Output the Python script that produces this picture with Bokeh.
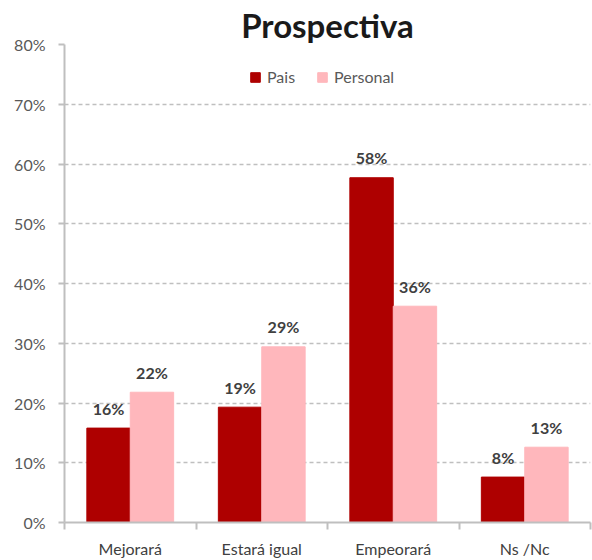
from bokeh.plotting import figure
from bokeh.models import ColumnDataSource, FixedTicker, Legend, LegendItem, Range1d
from bokeh.core.properties import value
from bokeh.embed import file_html
from bokeh.resources import INLINE

categories = ["Mejorará", "Estará igual", "Empeorará", "Ns /Nc"]
pais = [15.8, 19.3, 57.7, 7.6]
personal = [21.8, 29.4, 36.2, 12.6]
y_ticks = [0, 10, 20, 30, 40, 50, 60, 70, 80]

FONT = "Lato"
C_PAIS = "#AE0000"
C_PERS = "#FFB7BC"
GRAY = "#BFBFBF"
TXT = "#595959"

centers = [i + 0.5 for i in range(len(categories))]
bounds = [i for i in range(len(categories) + 1)]
w = 0.33

src_pais = ColumnDataSource(dict(x=[c - w / 2 for c in centers], top=pais,
                                 lab=[f"{round(v)}%" for v in pais]))
src_pers = ColumnDataSource(dict(x=[c + w / 2 for c in centers], top=personal,
                                 lab=[f"{round(v)}%" for v in personal]))

p = figure(width=592, height=560, output_backend="svg", toolbar_location=None,
           x_range=Range1d(0, len(categories)), y_range=Range1d(0, 80),
           min_border_left=64, min_border_right=2, min_border_bottom=37, min_border_top=44)

p.title.text = "Prospectiva"
p.title.align = "center"
p.title.text_font = FONT
p.title.text_font_size = "33px"
p.title.text_font_style = "bold"
p.title.text_color = "#1a1a1a"
p.title.offset = -6
p.title.standoff = 0

r1 = p.vbar(x="x", top="top", width=w, source=src_pais, color=C_PAIS)
r2 = p.vbar(x="x", top="top", width=w, source=src_pers, color=C_PERS)

for s in (src_pais, src_pers):
    p.text(x="x", y="top", text="lab", source=s, text_align="center",
           text_baseline="alphabetic", y_offset=-20, text_font=value(FONT),
           text_font_size="16px", text_font_style="bold", text_color="#404040")

legend = Legend(items=[LegendItem(label="Pais", renderers=[r1]),
                       LegendItem(label="Personal", renderers=[r2])],
                orientation="horizontal", location=(185, 436),
                border_line_color=None, background_fill_alpha=0,
                label_text_font=FONT, label_text_font_size="16px",
                label_text_color=TXT, glyph_width=12, glyph_height=12,
                spacing=21, label_standoff=6, margin=0, padding=0)
p.add_layout(legend)

p.outline_line_color = None
p.xgrid.grid_line_color = None
p.ygrid.grid_line_color = GRAY
p.ygrid.grid_line_dash = "4 3"
p.ygrid.grid_line_width = 1.5

p.yaxis.ticker = FixedTicker(ticks=y_ticks)
p.yaxis.major_label_overrides = {t: f"{t}%" for t in y_ticks}
p.yaxis.axis_line_color = GRAY
p.yaxis.axis_line_width = 2
p.yaxis.major_tick_line_color = GRAY
p.yaxis.major_tick_line_width = 2
p.yaxis.major_tick_out = 6
p.yaxis.major_tick_in = 0
p.yaxis.minor_tick_line_color = None
p.yaxis.major_label_text_font = FONT
p.yaxis.major_label_text_font_size = "16px"
p.yaxis.major_label_text_color = TXT
p.yaxis.major_label_standoff = 13

p.xaxis.ticker = FixedTicker(ticks=centers, minor_ticks=bounds)
p.xaxis.major_label_overrides = {c: n for c, n in zip(centers, categories)}
p.xaxis.axis_line_color = GRAY
p.xaxis.axis_line_width = 2
p.xaxis.major_tick_line_color = None
p.xaxis.major_tick_out = 0
p.xaxis.major_tick_in = 0
p.xaxis.minor_tick_line_color = GRAY
p.xaxis.minor_tick_line_width = 2
p.xaxis.minor_tick_out = 7
p.xaxis.minor_tick_in = 0
p.xaxis.major_label_text_font = FONT
p.xaxis.major_label_text_font_size = "16px"
p.xaxis.major_label_text_color = "#404040"
p.xaxis.major_label_standoff = 9

open("out.html", "w").write(file_html(p, INLINE))
